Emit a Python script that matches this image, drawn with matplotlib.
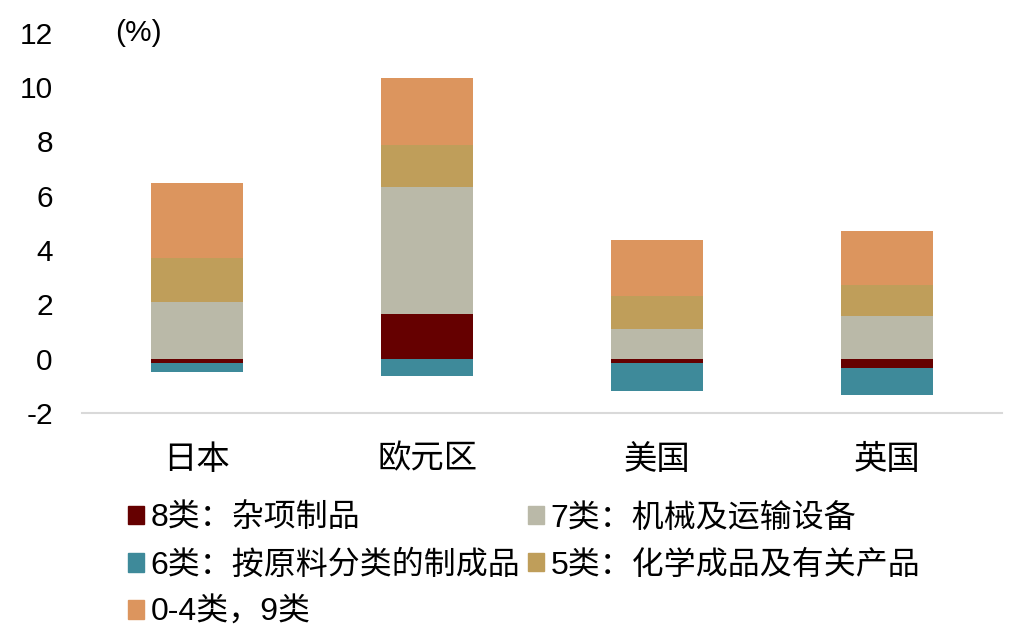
import numpy as np
import matplotlib.pyplot as plt
from matplotlib.patches import Patch

plt.rcParams['font.family'] = ['Liberation Sans', 'Noto Sans CJK SC']
plt.rcParams['axes.unicode_minus'] = False

regions = ['日本', '欧元区', '美国', '英国']
# 各类商品贡献 (%)
cat8 = [-0.18, 1.65, -0.18, -0.34]   # 8类：杂项制品
cat6 = [-0.33, -0.65, -1.01, -1.01]  # 6类：按原料分类的制成品
cat7 = [2.10, 4.67, 1.10, 1.57]      # 7类：机械及运输设备
cat5 = [1.61, 1.55, 1.19, 1.13]      # 5类：化学成品及有关产品
cat04 = [2.76, 2.46, 2.08, 1.98]     # 0-4类，9类

series = [
    ('8类：杂项制品', cat8, '#650000'),
    ('7类：机械及运输设备', cat7, '#bab9a8'),
    ('6类：按原料分类的制成品', cat6, '#3e8a9a'),
    ('5类：化学成品及有关产品', cat5, '#bf9e5a'),
    ('0-4类，9类', cat04, '#dc955e'),
]
# 堆叠顺序
stack_order = [0, 2, 1, 3, 4]

fig = plt.figure(figsize=(10.24, 6.43), dpi=100)
ax = fig.add_axes([0.080, 0.358, 0.899, 0.591])

x = np.arange(len(regions))
pos_base = np.zeros(len(regions))
neg_base = np.zeros(len(regions))
for i in stack_order:
    name, vals, color = series[i]
    vals = np.array(vals)
    bottoms = np.where(vals >= 0, pos_base, neg_base)
    ax.bar(x, vals, 0.4, bottom=bottoms, color=color, linewidth=0)
    pos_base = pos_base + np.where(vals >= 0, vals, 0)
    neg_base = neg_base + np.where(vals < 0, vals, 0)

ax.set_xlim(-0.5, 3.5)
ax.set_ylim(-2, 12)
ax.set_yticks(range(-2, 13, 2))
ax.set_xticks(x)
ax.set_xticklabels(regions, fontsize=24)
ax.tick_params(axis='y', labelsize=21.5, length=0, pad=21)
ax.tick_params(axis='x', length=0, pad=23)
for s in ['top', 'right', 'left']:
    ax.spines[s].set_visible(False)
ax.spines['bottom'].set_color('#d9d9d9')
ax.spines['bottom'].set_linewidth(1.5)

ax.text(0.036, 1.0, '(%)', transform=ax.transAxes, fontsize=21.5, va='center', ha='left')

handles = [Patch(color=series[i][2], label=series[i][0]) for i in [0, 2, 4, 1, 3]]
fig.legend(handles=handles, loc='upper left', bbox_to_anchor=(0.125, 0.217), ncol=2,
           frameon=False, fontsize=23, handlelength=0.5, handleheight=0.5,
           handletextpad=0.2, columnspacing=0.25, labelspacing=0.53, borderpad=0,
           borderaxespad=0)

fig.savefig('out.png', dpi=100)
